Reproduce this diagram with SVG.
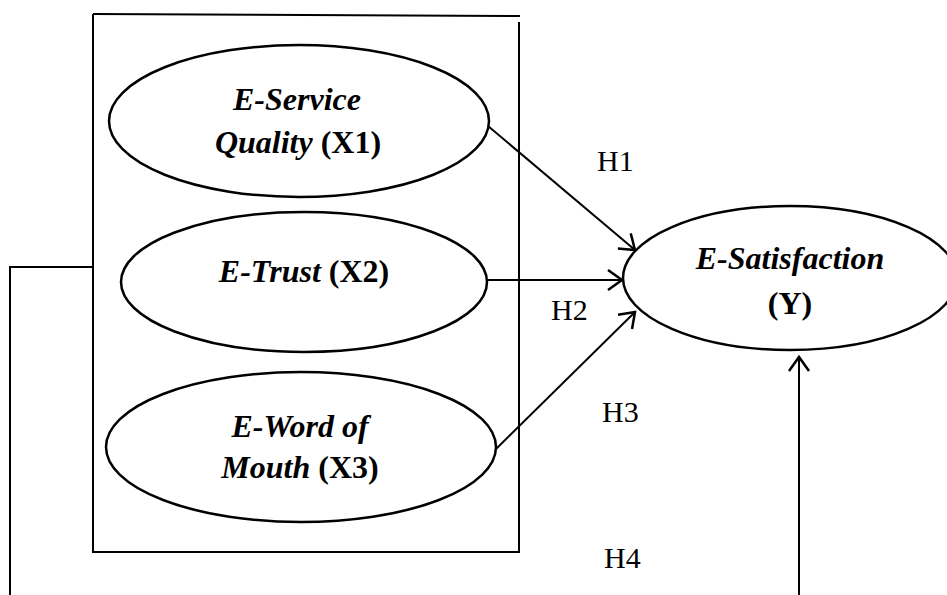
<svg xmlns="http://www.w3.org/2000/svg" width="947" height="595" viewBox="0 0 947 595">
<style>
.ln{fill:none;stroke:#000;stroke-width:2}
.el{fill:#fff;stroke:#000;stroke-width:2.5}
.t{font-family:"Liberation Serif","Times New Roman",serif;font-size:32px;fill:#000;text-anchor:middle}
.bi{font-weight:bold;font-style:italic}
.b{font-weight:bold}
.h{font-family:"Liberation Serif","Times New Roman",serif;font-size:30px;fill:#000}
</style>
<defs>
<marker id="arr" markerUnits="userSpaceOnUse" markerWidth="30" markerHeight="30" refX="22" refY="12" orient="auto">
<path d="M8,2 L22,12 L8,22" fill="none" stroke="#000" stroke-width="2.5"/>
</marker>
</defs>
<g id="frame">
<path class="ln" d="M93,14 L520,16"/>
<path class="ln" d="M519,22 L519,552 L93,552 L93,14"/>
</g>
<g id="connectors">
<path class="ln" d="M93,267 L10,267 L10,595"/>
<path class="ln" d="M488,126 L635,250" marker-end="url(#arr)"/>
<path class="ln" d="M488,280 L622,280" marker-end="url(#arr)"/>
<path class="ln" d="M496,449 L635,312" marker-end="url(#arr)"/>
<path class="ln" d="M799,595 L799,357" marker-end="url(#arr)"/>
</g>
<g id="x1">
<ellipse class="el" cx="299" cy="121" rx="190" ry="76"/>
<text class="t bi" x="297" y="110">E-Service</text>
<text class="t" x="298" y="153"><tspan class="bi">Quality</tspan><tspan class="b"> (X1)</tspan></text>
</g>
<g id="x2">
<ellipse class="el" cx="304" cy="282" rx="183" ry="70"/>
<text class="t" x="304" y="282"><tspan class="bi">E-Trust</tspan><tspan class="b"> (X2)</tspan></text>
</g>
<g id="x3">
<ellipse class="el" cx="301" cy="447" rx="195" ry="75"/>
<text class="t bi" x="300" y="437">E-Word of</text>
<text class="t" x="300" y="478"><tspan class="bi">Mouth</tspan><tspan class="b"> (X3)</tspan></text>
</g>
<g id="y">
<ellipse class="el" cx="790" cy="278" rx="167" ry="72"/>
<text class="t bi" x="790" y="269">E-Satisfaction</text>
<text class="t b" x="790" y="314">(Y)</text>
</g>
<g id="labels">
<text class="h" x="597" y="171">H1</text>
<text class="h" x="551" y="320">H2</text>
<text class="h" x="602" y="422">H3</text>
<text class="h" x="604" y="568">H4</text>
</g>
</svg>
